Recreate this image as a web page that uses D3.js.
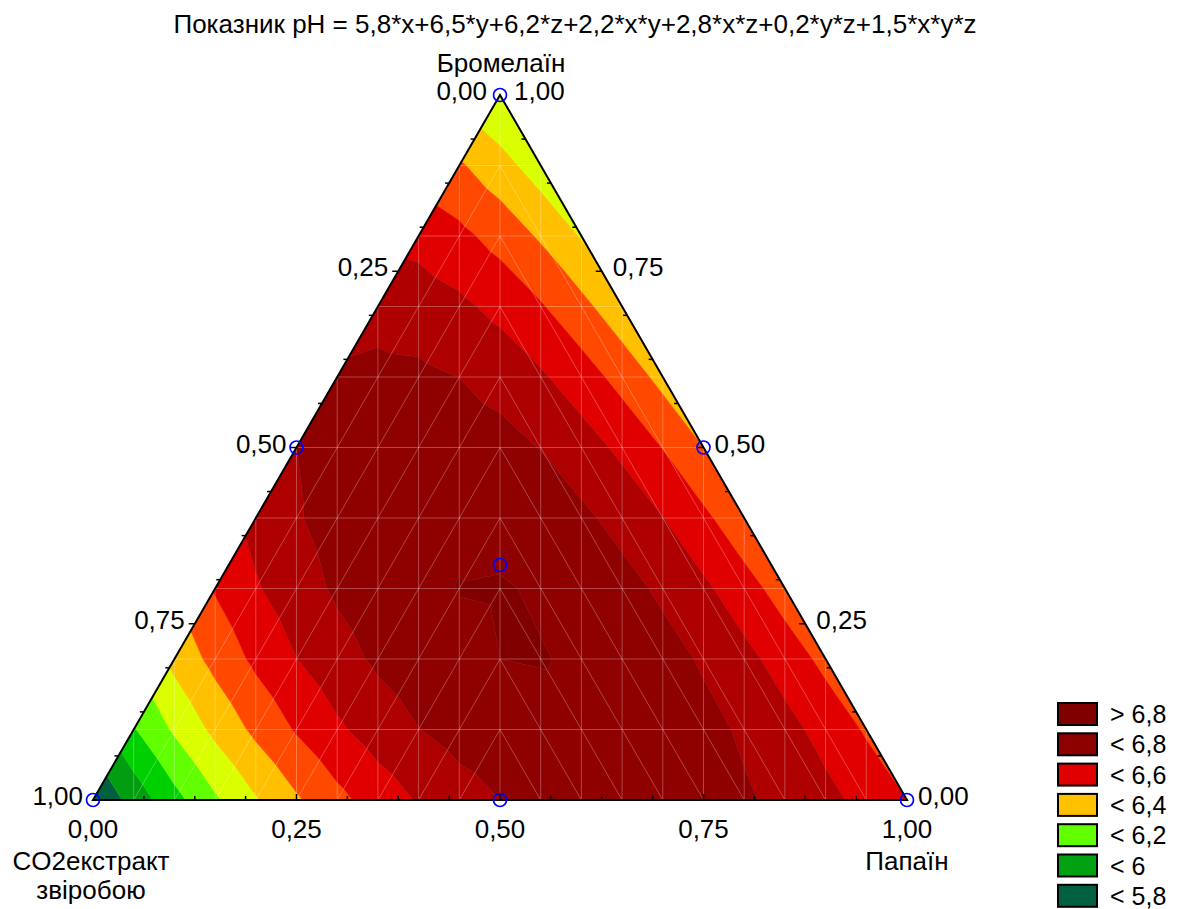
<!DOCTYPE html>
<html>
<head>
<meta charset="utf-8">
<script src="https://cdn.jsdelivr.net/npm/d3@7"></script>
<style>
  body { margin: 0; background: #ffffff; }
  text { font-family: "Liberation Sans", Arial, sans-serif; fill: #000000; }
</style>
</head>
<body>
<div id="canvas"></div>
<script>
"use strict";

/* Chart data */
let chartTitle = "Показник pH = 5,8*x+6,5*y+6,2*z+2,2*x*y+2,8*x*z+0,2*y*z+1,5*x*y*z";
let componentNames = [["CO2екстракт", "звіробою"], ["Папаїн"], ["Бромелаїн"]]; // x, y, z
let linearCoef = [5.8, 6.5, 6.2];   // x, y, z
let pairCoef = [2.2, 2.8, 0.2];     // x*y, x*z, y*z
let tripleCoef = 1.5;               // x*y*z
let levels = [5.9, 6.0, 6.1, 6.2, 6.3, 6.4, 6.5, 6.6, 6.7, 6.8];
let bandColors = ["#00603f", "#009e10", "#00d000", "#62ff00", "#d9ff00", "#ffc000",
                  "#ff4800", "#e00000", "#ae0000", "#8f0000", "#800000"];
let legendLabels = ["> 6,8", "< 6,8", "< 6,6", "< 6,4", "< 6,2", "< 6", "< 5,8"];
let legendColors = ["#800000", "#8c0000", "#e00000", "#ffc000", "#62ff00", "#00a010", "#00603f"];
let tickValues = [0, 0.25, 0.5, 0.75, 1];
let tickLabels = ["0,00", "0,25", "0,50", "0,75", "1,00"];
let designPoints = [
  [1, 0, 0], [0, 1, 0], [0, 0, 1],
  [0.5, 0.5, 0], [0.5, 0, 0.5], [0, 0.5, 0.5],
  [1 / 3, 1 / 3, 1 / 3]
];

/* Drawing config */
let svgWidth = 1184;
let svgHeight = 909;
let meshCols = 20;
let meshRows = 10;
let minorTicks = 16;

let svg = d3.select("#canvas")
  .append("svg")
  .attr("width", svgWidth)
  .attr("height", svgHeight);

/* Scales: horizontal position is y + z/2, vertical is z */
let xScale = d3.scaleLinear().domain([0, 1]).range([93, 907]);
let yScale = d3.scaleLinear().domain([0, 1]).range([800, 95]);

function px(y, z) { return xScale(y + z / 2); }
function py(z) { return yScale(z); }

function pH(x, y, z) {
  return linearCoef[0] * x + linearCoef[1] * y + linearCoef[2] * z +
    pairCoef[0] * x * y + pairCoef[1] * x * z + pairCoef[2] * y * z +
    tripleCoef * x * y * z;
}

/* Mesh nodes, row k holds columns k .. meshCols-k */
function node(i, k) {
  let z = k / meshRows;
  let y = i / meshCols - k / meshCols;
  let x = 1 - y - z;
  return { x: x, y: y, z: z, v: pH(x, y, z), px: px(y, z), py: py(z) };
}

let triangles = [];
for (let k = 0; k < meshRows; k = k + 1) {
  for (let i = k; i <= meshCols - 1 - k; i = i + 1) {
    let bl = node(i, k), br = node(i + 1, k);
    let tl = node(i, k + 1), tr = node(i + 1, k + 1);
    let leftHalf = i < meshCols / 2;
    if (i === k) {
      triangles.push([bl, br, tr]);
    } else if (i === meshCols - 1 - k) {
      triangles.push([bl, br, tl]);
    } else if (leftHalf) {
      triangles.push([bl, br, tr]);
      triangles.push([bl, tr, tl]);
    } else {
      triangles.push([bl, br, tl]);
      triangles.push([br, tr, tl]);
    }
  }
}

/* Clip a polygon against a level: keep the side where v >= t (above) or v < t */
function clip(poly, t, above) {
  let out = [];
  for (let i = 0; i < poly.length; i = i + 1) {
    let a = poly[i];
    let b = poly[(i + 1) % poly.length];
    let aIn = above ? a.v >= t : a.v < t;
    let bIn = above ? b.v >= t : b.v < t;
    if (aIn) out.push(a);
    if (aIn !== bIn) {
      let f = (t - a.v) / (b.v - a.v);
      out.push({ px: a.px + f * (b.px - a.px), py: a.py + f * (b.py - a.py), v: t });
    }
  }
  return out;
}

let bandPaths = bandColors.map(function () { return ""; });
triangles.forEach(function (tri) {
  for (let b = 0; b < bandColors.length; b = b + 1) {
    let poly = tri;
    if (b > 0) poly = clip(poly, levels[b - 1], true);
    if (poly.length > 2 && b < levels.length) poly = clip(poly, levels[b], false);
    if (poly.length > 2) {
      bandPaths[b] += "M" + poly.map(function (p) { return p.px + "," + p.py; }).join("L") + "Z";
    }
  }
});

/* Contour bands */
svg.append("g")
  .selectAll("path")
  .data(bandColors)
  .enter()
  .append("path")
  .attr("d", function (c, i) { return bandPaths[i]; })
  .attr("fill", function (c) { return c; })
  .attr("stroke", function (c) { return c; })
  .attr("stroke-width", 0.5);

/* Mesh lines */
let edges = {};
triangles.forEach(function (tri) {
  for (let i = 0; i < 3; i = i + 1) {
    let a = tri[i], b = tri[(i + 1) % 3];
    let key = [a.px.toFixed(1), a.py.toFixed(1), b.px.toFixed(1), b.py.toFixed(1)];
    let rev = [key[2], key[3], key[0], key[1]].join();
    if (!edges[rev]) edges[key.join()] = [a, b];
  }
});
svg.append("g")
  .selectAll("line")
  .data(Object.values(edges))
  .enter()
  .append("line")
  .attr("x1", function (e) { return e[0].px; })
  .attr("y1", function (e) { return e[0].py; })
  .attr("x2", function (e) { return e[1].px; })
  .attr("y2", function (e) { return e[1].py; })
  .attr("stroke", "#ffffff")
  .attr("stroke-opacity", 0.28)
  .attr("stroke-width", 1);

/* Triangle outline */
let corners = [[0, 0], [1, 0], [0, 1]];
svg.append("path")
  .attr("d", d3.line()(corners.map(function (c) { return [px(c[0], c[1]), py(c[1])]; })) + "Z")
  .attr("fill", "none")
  .attr("stroke", "#000000")
  .attr("stroke-width", 2)
  .attr("stroke-linejoin", "miter");

/* Tick marks */
let tickGroup = svg.append("g").attr("stroke", "#000000").attr("stroke-width", 1.5);
for (let j = 1; j < minorTicks; j = j + 1) {
  let t = j / minorTicks;
  let len = (j % 4 === 0) ? 6 : 4;
  // bottom edge (Папаїн)
  tickGroup.append("line")
    .attr("x1", px(t, 0)).attr("y1", py(0))
    .attr("x2", px(t, 0)).attr("y2", py(0) - len);
  // left edge
  tickGroup.append("line")
    .attr("x1", px(0, t)).attr("y1", py(t))
    .attr("x2", px(0, t) - len).attr("y2", py(t));
  // right edge
  tickGroup.append("line")
    .attr("x1", px(1 - t, t)).attr("y1", py(t))
    .attr("x2", px(1 - t, t) - len).attr("y2", py(t));
}

/* Tick labels */
let labelSize = "26px";
tickValues.forEach(function (v, i) {
  // bottom: Папаїн fraction
  svg.append("text")
    .attr("x", px(v, 0))
    .attr("y", 838)
    .attr("text-anchor", "middle")
    .attr("font-size", labelSize)
    .text(tickLabels[i]);
  // left: CO2 fraction, 1 at bottom-left
  svg.append("text")
    .attr("x", px(0, 1 - v) - (v === 0 ? 13 : 10))
    .attr("y", v === 0 ? 100 : py(1 - v) + 5)
    .attr("text-anchor", "end")
    .attr("font-size", labelSize)
    .text(tickLabels[i]);
  // right: Бромелаїн fraction, 1 at top
  svg.append("text")
    .attr("x", px(1 - v, v) + (v === 1 ? 14 : 11))
    .attr("y", v === 1 ? 100 : py(v) + 5)
    .attr("text-anchor", "start")
    .attr("font-size", labelSize)
    .text(tickLabels[i]);
});

/* Component names */
let nameSize = "26px";
svg.append("text")
  .attr("x", px(0, 1) + 1)
  .attr("y", 72)
  .attr("text-anchor", "middle")
  .attr("font-size", nameSize)
  .text(componentNames[2][0]);
svg.append("text")
  .attr("x", px(1, 0))
  .attr("y", 870)
  .attr("text-anchor", "middle")
  .attr("font-size", nameSize)
  .text(componentNames[1][0]);
componentNames[0].forEach(function (line, i) {
  svg.append("text")
    .attr("x", px(0, 0) - 2)
    .attr("y", 870 + i * 29)
    .attr("text-anchor", "middle")
    .attr("font-size", nameSize)
    .text(line);
});

/* Design points */
svg.append("g")
  .selectAll("circle")
  .data(designPoints)
  .enter()
  .append("circle")
  .attr("cx", function (d) { return px(d[1], d[2]); })
  .attr("cy", function (d) { return py(d[2]); })
  .attr("r", 6.5)
  .attr("fill", "none")
  .attr("stroke", "#0000ff")
  .attr("stroke-width", 1.7);

/* Title */
svg.append("text")
  .attr("x", 575)
  .attr("y", 33)
  .attr("text-anchor", "middle")
  .attr("font-size", "26px")
  .text(chartTitle);

/* Legend */
let legend = svg.append("g");
legendLabels.forEach(function (label, i) {
  let top = 703 + i * 30.3;
  legend.append("rect")
    .attr("x", 1058)
    .attr("y", top)
    .attr("width", 39)
    .attr("height", 22)
    .attr("fill", legendColors[i])
    .attr("stroke", "#000000")
    .attr("stroke-width", 2);
  legend.append("text")
    .attr("x", 1110)
    .attr("y", top + 20)
    .attr("font-size", "25px")
    .text(label);
});
</script>
</body>
</html>
